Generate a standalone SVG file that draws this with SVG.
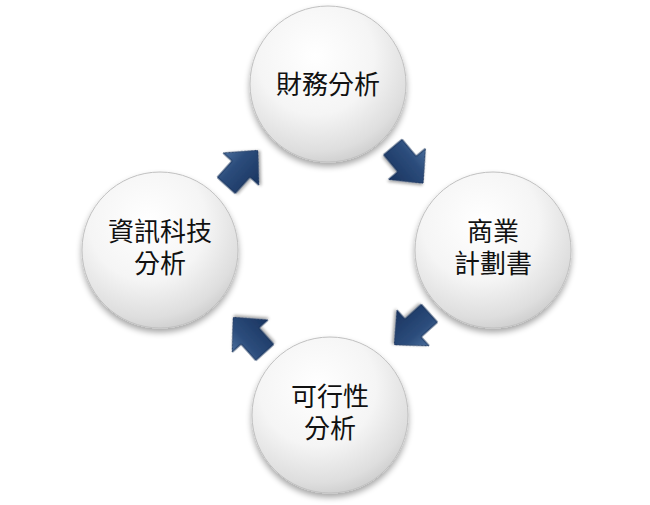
<svg xmlns="http://www.w3.org/2000/svg" width="650" height="505" viewBox="0 0 650 505">
  <defs>
    <radialGradient id="ballGrad" cx="0.42" cy="0.32" r="0.75">
      <stop offset="0" stop-color="#ffffff"/>
      <stop offset="0.5" stop-color="#f5f5f5"/>
      <stop offset="0.82" stop-color="#dedede"/>
      <stop offset="1" stop-color="#c6c6c6"/>
    </radialGradient>
    <linearGradient id="arrowGrad" x1="0" y1="0" x2="0" y2="1">
      <stop offset="0" stop-color="#4a6e9c"/>
      <stop offset="0.35" stop-color="#2c4d7c"/>
      <stop offset="1" stop-color="#1a3460"/>
    </linearGradient>
    <filter id="ballShadow" x="-20%" y="-20%" width="140%" height="150%">
      <feGaussianBlur in="SourceAlpha" stdDeviation="3"/>
      <feOffset dx="0" dy="4" result="b"/>
      <feComponentTransfer><feFuncA type="linear" slope="0.35"/></feComponentTransfer>
      <feMerge><feMergeNode/><feMergeNode in="SourceGraphic"/></feMerge>
    </filter>
    <filter id="arrowShadow" x="-30%" y="-30%" width="160%" height="160%">
      <feGaussianBlur in="SourceAlpha" stdDeviation="1.5"/>
      <feOffset dx="1" dy="2" result="b"/>
      <feComponentTransfer><feFuncA type="linear" slope="0.35"/></feComponentTransfer>
      <feMerge><feMergeNode/><feMergeNode in="SourceGraphic"/></feMerge>
    </filter>
    <polygon id="arrowShape" points="-22,-12 0,-12 0,-24 25,0 0,24 0,12 -22,12"/>
  </defs>
  <style>
    .ball { fill: url(#ballGrad); stroke: #c0c0c0; stroke-width: 1; filter: url(#ballShadow); }
    .label { font-family: "Noto Sans CJK TC", "Noto Sans CJK SC", sans-serif; font-size: 26px; fill: #111111; text-anchor: middle; }
    .arrow { fill: url(#arrowGrad); stroke: #16305a; stroke-width: 1; stroke-linejoin: round; filter: url(#arrowShadow); }
  </style>
  <rect width="650" height="505" fill="#ffffff"/>

  <g id="connectors">
    <use href="#arrowShape" class="arrow" transform="translate(241,169) rotate(-48)"/>
    <use href="#arrowShape" class="arrow" transform="translate(407,164) rotate(50)"/>
    <use href="#arrowShape" class="arrow" transform="translate(413,328) rotate(138)"/>
    <use href="#arrowShape" class="arrow" transform="translate(250,336) rotate(-132)"/>
  </g>

  <g id="node-finance">
    <circle class="ball" cx="328" cy="84" r="78"/>
    <text class="label" x="328" y="94">財務分析</text>
  </g>
  <g id="node-business">
    <circle class="ball" cx="493" cy="250" r="78"/>
    <text class="label" x="493" y="241">商業</text>
    <text class="label" x="493" y="273">計劃書</text>
  </g>
  <g id="node-feasibility">
    <circle class="ball" cx="330" cy="415" r="78"/>
    <text class="label" x="330" y="406">可行性</text>
    <text class="label" x="330" y="438">分析</text>
  </g>
  <g id="node-it">
    <circle class="ball" cx="160" cy="250" r="78"/>
    <text class="label" x="160" y="241">資訊科技</text>
    <text class="label" x="160" y="273">分析</text>
  </g>
</svg>
